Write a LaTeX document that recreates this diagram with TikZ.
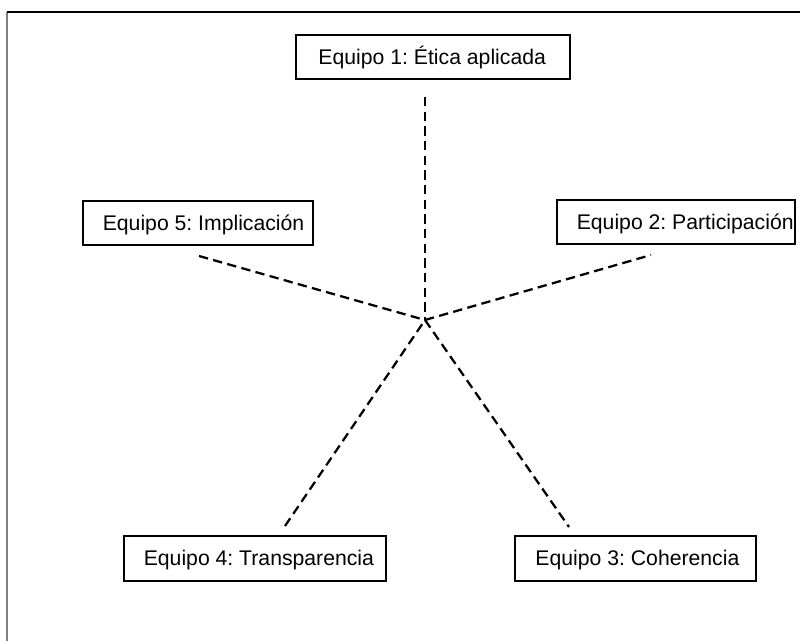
\documentclass[tikz,border=0pt]{standalone}
\usepackage{fontspec}
\setmainfont{Liberation Sans}
\frenchspacing
\newcommand{\eqboxtxt}[3]{\makebox[#1][l]{\hspace*{#2}#3}}
\begin{document}
\begin{tikzpicture}[x=0.75pt,y=-0.75pt,
  eqbox/.style={draw, line width=1.2pt, rectangle, anchor=north west,
    inner xsep=0pt, inner ysep=0pt, minimum height=33pt,
    text height=11.4pt, text depth=0pt,
    font=\fontsize{15.9pt}{19pt}\selectfont},
  spoke/.style={line width=1.7pt, dash pattern=on 7pt off 4pt}]
\useasboundingbox (0,0) rectangle (800,641);
\draw[line width=1pt, black!50] (7,645) -- (7,12);
\draw[line width=1pt, black] (7,12) -- (805,12);
\node[eqbox] (b1) at (295,34) {\eqboxtxt{205.5pt}{17pt}{Equipo 1: Ética aplicada}};
\node[eqbox] (b2) at (556,199) {\eqboxtxt{178.5pt}{15pt}{Equipo 2: Participación}};
\node[eqbox] (b5) at (82,200) {\eqboxtxt{172.5pt}{15pt}{Equipo 5: Implicación}};
\node[eqbox, minimum height=33.75pt] (b4) at (123,535) {\eqboxtxt{196.5pt}{15pt}{Equipo 4: Transparencia}};
\node[eqbox, minimum height=33.75pt] (b3) at (514,535) {\eqboxtxt{180.75pt}{15.5pt}{Equipo 3: Coherencia}};
\coordinate (c) at (425,320);
\coordinate (e1) at (425,97);
\coordinate (e2) at (651,255);
\coordinate (e5) at (199,256);
\coordinate (e4) at (285,526);
\coordinate (e3) at (569,527);
\draw[spoke] (e1) -- (c);
\draw[spoke] (c) -- (e2);
\draw[spoke] (e5) -- (c);
\draw[spoke] (e4) -- (c);
\draw[spoke] (c) -- (e3);
\end{tikzpicture}
\end{document}
